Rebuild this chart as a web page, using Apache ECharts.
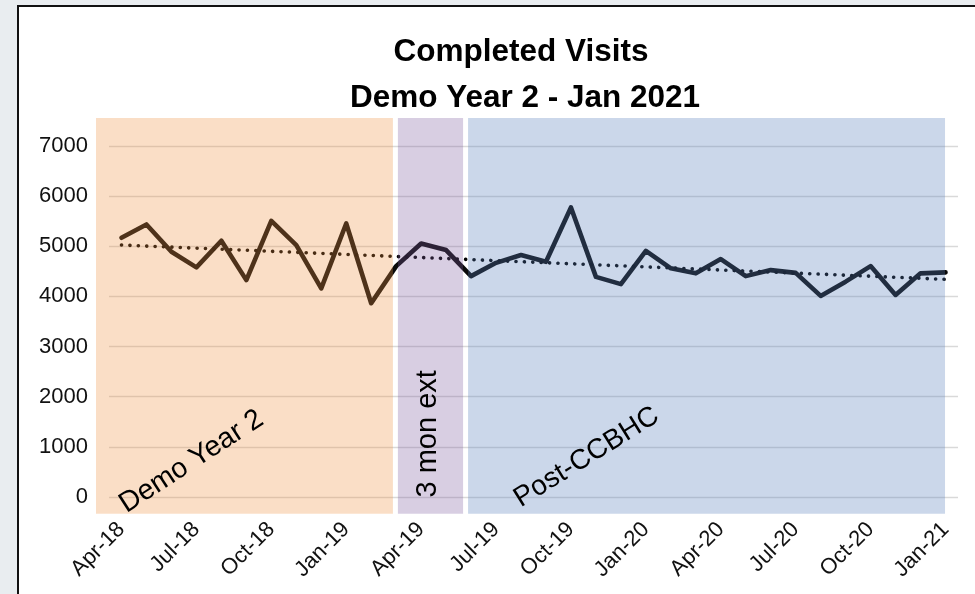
<!DOCTYPE html>
<html>
<head>
<meta charset="utf-8">
<script src="https://cdn.jsdelivr.net/npm/echarts@6/dist/echarts.min.js"></script>
<style>
  html, body { margin: 0; padding: 0; width: 975px; height: 594px; overflow: hidden; background: #e9edf0; }
  #frame { position: absolute; left: 17px; top: 5px; width: 1100px; height: 700px; background: #ffffff; border: 2px solid #111; box-sizing: border-box; }
  #chart { position: absolute; left: 0; top: 0; width: 975px; height: 594px; }
</style>
</head>
<body>
<div id="frame"></div>
<div id="chart"></div>
<script>
// ---- data ----
const months = ['Apr-18','May-18','Jun-18','Jul-18','Aug-18','Sep-18','Oct-18','Nov-18','Dec-18','Jan-19','Feb-19','Mar-19',
  'Apr-19','May-19','Jun-19','Jul-19','Aug-19','Sep-19','Oct-19','Nov-19','Dec-19','Jan-20','Feb-20','Mar-20',
  'Apr-20','May-20','Jun-20','Jul-20','Aug-20','Sep-20','Oct-20','Nov-20','Dec-20','Jan-21'];
const visits = [5170,5435,4890,4580,5110,4325,5505,5025,4160,5455,3865,4605,
  5055,4925,4405,4670,4825,4690,5775,4390,4245,4910,4560,4460,
  4745,4405,4525,4470,4010,4295,4605,4030,4460,4480];
const trendEnds = [5025, 4340];
const yTicks = [0, 1000, 2000, 3000, 4000, 5000, 6000, 7000];
const bandNames = ['Demo Year 2', '3 mon ext', 'Post-CCBHC'];
const bandStart = [-1.02, 11.07, 13.88];
const bandEnd = [10.87, 13.68, 32.98];
const bandValueTop = 7560;
const bandValueBottom = -335;

// ---- build ----
const trendData = months.map((m, i) => (i === 0 ? trendEnds[0] : (i === months.length - 1 ? trendEnds[1] : null)));
const bandData = bandNames.map((n, i) => [bandStart[i], bandEnd[i], i]);
const bandColors = ['rgba(240,147,67,0.30)', 'rgba(127,93,160,0.30)', 'rgba(88,126,186,0.31)'];
const FONT = '"Liberation Sans", Arial, sans-serif';

const chart = echarts.init(document.getElementById('chart'), null, { renderer: 'canvas' });
chart.setOption({
  backgroundColor: 'transparent',
  animation: false,
  graphic: [
    { type: 'text', x: 521, y: 52, style: { text: 'Completed Visits', font: 'bold 31.5px ' + FONT, fill: '#000', align: 'center', verticalAlign: 'middle' } },
    { type: 'text', x: 525, y: 98, style: { text: 'Demo Year 2 - Jan 2021', font: 'bold 31.5px ' + FONT, fill: '#000', align: 'center', verticalAlign: 'middle' } }
  ],
  grid: { left: 109, right: 17, top: 146, bottom: 97, containLabel: false },
  xAxis: [
    {
      type: 'category', data: months, boundaryGap: true,
      axisLine: { show: false }, axisTick: { show: false },
      axisLabel: { interval: 2, rotate: 45, margin: 29, fontSize: 22, fontFamily: FONT, color: '#111' },
      splitLine: { show: false }
    },
    { type: 'value', min: -0.5, max: months.length - 0.5, show: false }
  ],
  yAxis: {
    type: 'value', min: yTicks[0], max: yTicks[yTicks.length - 1], interval: 1000,
    axisLine: { show: false }, axisTick: { show: false },
    axisLabel: { margin: 21, fontSize: 22, fontFamily: FONT, color: '#111', formatter: function (v) { return String(v); } },
    splitLine: { lineStyle: { color: '#d9d9d9', width: 1.3 } }
  },
  series: [
    {
      type: 'line', data: visits, xAxisIndex: 0, z: 2,
      symbol: 'none', lineStyle: { color: '#0a0a0a', width: 4.6, join: 'round', cap: 'round' }
    },
    {
      type: 'line', data: trendData, xAxisIndex: 0, z: 2, connectNulls: true,
      symbol: 'none', lineStyle: { color: '#000', width: 3.6, type: [0.1, 8.3], cap: 'round' }
    },
    {
      type: 'custom', xAxisIndex: 1, yAxisIndex: 0, z: 5, clip: false, silent: true,
      data: bandData,
      renderItem: function (params, api) {
        const i = api.value(2);
        const p0 = api.coord([api.value(0), bandValueTop]);
        const p1 = api.coord([api.value(1), bandValueBottom]);
        const children = [{
          type: 'rect',
          shape: { x: p0[0], y: p0[1], width: p1[0] - p0[0], height: p1[1] - p0[1] },
          style: { fill: bandColors[i] }
        }];
        let lab;
        if (i === 1) {
          lab = { x: (p0[0] + p1[0]) / 2 - 2, y: p1[1] - 80, rotation: Math.PI / 2, align: 'center', va: 'middle', size: 29 };
        } else if (i === 0) {
          lab = { x: p0[0] + 34, y: p1[1] + 5, rotation: 33 * Math.PI / 180, align: 'left', va: 'bottom', size: 28.5 };
        } else {
          lab = { x: p0[0] + 56, y: p1[1] - 1, rotation: 32 * Math.PI / 180, align: 'left', va: 'bottom', size: 28 };
        }
        children.push({
          type: 'text', x: lab.x, y: lab.y, rotation: lab.rotation,
          style: { text: bandNames[i], font: lab.size + 'px ' + FONT, fill: '#000', align: lab.align, verticalAlign: lab.va }
        });
        return { type: 'group', children: children };
      }
    }
  ]
});
</script>
</body>
</html>
